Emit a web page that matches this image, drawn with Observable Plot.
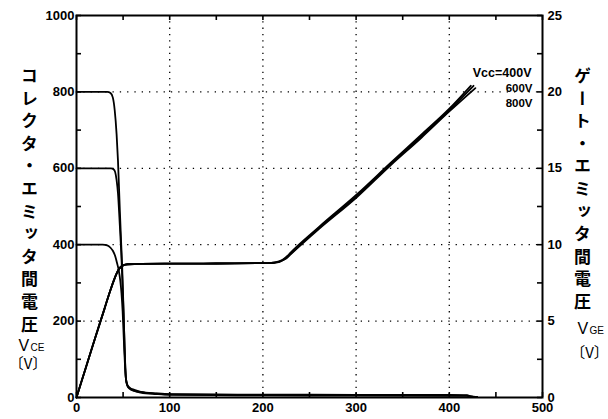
<!DOCTYPE html>
<html><head><meta charset="utf-8">
<script src="https://cdn.jsdelivr.net/npm/d3@7"></script>
<script src="https://cdn.jsdelivr.net/npm/@observablehq/plot@0.6"></script>
<style>html,body{margin:0;padding:0;background:#fff}</style>
</head><body><div id="chart"></div>
<script>
// time (ns) , collector-emitter voltage (V)
const vce400 = [[0,400],[28,400],[33,398],[36.5,392],[39,384],[41.8,368],[43.5,352],[45.4,332],[47,305],[48.3,272],[49.5,225],[50.8,150],[52,85],[53,50],[54.5,31],[57,23],[62,17],[69,13],[86,9],[100,7],[150,6],[200,5.5],[300,5],[400,4.5],[419,4],[423,2.5],[430,1]];
const vce600 = [[0,600],[37,600],[40,597],[41.5,590],[43,570],[44.5,535],[46.5,450],[48,380],[49,320],[50.5,222],[52,105],[53,50],[54.5,32],[57,24],[62,18],[69,14],[86,10],[100,8],[150,7],[200,6.5],[300,6],[400,5.5],[419,5],[423,3],[430,1]];
const vce800 = [[0,800],[33,800],[36.5,797],[39,785],[41,752],[43,690],[44.5,620],[46.5,490],[48,400],[49,342],[50.5,225],[52,100],[53,50],[54.5,34],[57,26],[62,20],[69,15],[86,11],[100,9],[150,8],[200,7.5],[300,7],[400,6.5],[419,6],[423,3],[430,1]];
// time (ns) , gate-emitter voltage (V)
const vge400 = [[0,0],[10,1.95],[20,3.9],[30,5.8],[36,6.95],[40,7.65],[43,8.1],[46,8.45],[50,8.65],[55,8.72],[70,8.75],[150,8.77],[205,8.8],[212,8.83],[218,8.92],[222,9.05],[226,9.25],[230,9.5],[260,11.15],[301,13.3],[337,15.35],[370,17.2],[400,18.9],[423,20.4]];
const vge600 = [[0,0],[10,1.95],[20,3.9],[30,5.8],[36,6.95],[40,7.65],[43,8.1],[46,8.45],[50,8.65],[55,8.72],[70,8.75],[150,8.77],[205,8.8],[212,8.82],[218,8.9],[222,9.02],[226,9.2],[230,9.42],[260,11.1],[301,13.2],[337,15.28],[370,17.1],[400,18.8],[426,20.4]];
const vge800 = [[0,0],[10,1.95],[20,3.9],[30,5.8],[36,6.95],[40,7.65],[43,8.1],[46,8.45],[50,8.65],[55,8.72],[70,8.75],[150,8.77],[205,8.8],[212,8.82],[218,8.88],[222,9.0],[226,9.15],[230,9.38],[260,11.02],[301,13.12],[337,15.2],[370,17.0],[400,18.72],[428,20.25]];

const xTicks = [0,100,200,300,400,500];
const xMinorTicks = [50,150,250,350,450];
const vceTicks = [0,200,400,600,800,1000];
const vceMinorTicks = [100,300,500,700,900];
const vgeTicks = [0,5,10,15,20,25];
const vgeMinorTicks = [2.5,7.5,12.5,17.5,22.5];
const vccLabels = ["Vcc=400V","600V","800V"];
const leftTitle = "コレクタ・エミッタ間電圧";
const rightTitle = "ゲート・エミッタ間電圧";

const X_MAX = 500, VGE_MAX = 25, VCE_MAX = 1000;
const k = VCE_MAX / VGE_MAX;

const W = 608, H = 419, ML = 76, MR = 66, MT = 15, MB = 22, TICK = 5;
const FW = W - ML - MR, FH = H - MT - MB;
const tx = TICK / FW * X_MAX;   // tick length in x units
const ty = TICK / FH * VCE_MAX; // tick length in y units

const lineOpts = {x: d => d[0], y: d => d[1], curve: "monotone-x", stroke: "#000", strokeWidth: 1.8};
const gateOpts = {x: d => d[0], y: d => d[1] * k, curve: "monotone-x", stroke: "#000", strokeWidth: 1.8};
const jp = {fontFamily: "Noto Sans CJK JP", fontWeight: "bold"};
const allX = xTicks.concat(xMinorTicks);
const allVce = vceTicks.concat(vceMinorTicks);
const allVge = vgeTicks.concat(vgeMinorTicks).map(v => v * k);
const tk = {stroke: "black", strokeWidth: 1.6, strokeOpacity: 1};

const chart = Plot.plot({
  width: W, height: H,
  marginLeft: ML, marginRight: MR, marginTop: MT, marginBottom: MB,
  style: {fontFamily: "Liberation Sans, Arial, sans-serif", fontSize: "13px", fontWeight: "bold", background: "#fff", color: "#000"},
  x: {domain: [0, X_MAX], label: null},
  y: {domain: [0, VCE_MAX], label: null},
  marks: [
    Plot.ruleX(xTicks.slice(1, -1), {stroke: "#000", strokeWidth: 1.3, strokeDasharray: "1.3,5"}),
    Plot.ruleY(vceTicks.slice(1, -1), {stroke: "#000", strokeWidth: 1.3, strokeDasharray: "1.3,6"}),
    Plot.line(vce400, lineOpts),
    Plot.line(vce600, lineOpts),
    Plot.line(vce800, lineOpts),
    Plot.line(vge400, gateOpts),
    Plot.line(vge600, gateOpts),
    Plot.line(vge800, gateOpts),
    Plot.frame({stroke: "#000", strokeWidth: 2}),
    // inward ticks
    Plot.ruleX(allX, {x: d => d, y1: () => 0, y2: () => ty, ...tk}),
    Plot.ruleX(allX, {x: d => d, y1: () => VCE_MAX - ty, y2: () => VCE_MAX, ...tk}),
    Plot.ruleY(allVce, {y: d => d, x1: () => 0, x2: () => tx, ...tk}),
    Plot.ruleY(allVge, {y: d => d, x1: () => X_MAX - tx, x2: () => X_MAX, ...tk}),
    // tick labels
    Plot.axisX({anchor: "bottom", ticks: xTicks, tickSize: 0, tickPadding: 5, tickFormat: d => String(d), label: null}),
    Plot.axisY({anchor: "left", ticks: vceTicks, tickSize: 0, tickPadding: 2, tickFormat: d => String(d), label: null}),
    Plot.axisY({anchor: "right", ticks: vgeTicks.map(v => v * k), tickFormat: v => String(v / k), tickSize: 0, tickPadding: 5, label: null}),
    Plot.text([vccLabels[0]], {frameAnchor: "top-right", dx: -11, dy: 53, textAnchor: "end", fontSize: 12.5, fontWeight: "bold"}),
    Plot.text([vccLabels.slice(1).join("\n")], {frameAnchor: "top-right", dx: -10, dy: 79, textAnchor: "end", lineAnchor: "middle", lineHeight: 1.3, fontSize: 11.5, fontWeight: "bold"}),
    Plot.text([leftTitle], {frameAnchor: "top-left", dx: -47, dy: 39.5, textAnchor: "start", fontSize: 17, ...jp}),
    Plot.text([rightTitle], {frameAnchor: "top-right", dx: 40, dy: 39.5, textAnchor: "start", fontSize: 17, ...jp}),
    Plot.text(["V"], {frameAnchor: "left", dx: -58, dy: 139, textAnchor: "start", fontSize: 16, fontWeight: "normal"}),
    Plot.text(["CE"], {frameAnchor: "left", dx: -46, dy: 141, textAnchor: "start", fontSize: 10, fontWeight: "normal"}),
    Plot.text(["〔V〕"], {frameAnchor: "left", dx: -48.5, dy: 158, textAnchor: "middle", fontSize: 15, fontFamily: "Noto Sans CJK JP", fontWeight: 400}),
    Plot.text(["V"], {frameAnchor: "right", dx: 35, dy: 122, textAnchor: "start", fontSize: 16, fontWeight: "normal"}),
    Plot.text(["GE"], {frameAnchor: "right", dx: 47, dy: 124, textAnchor: "start", fontSize: 10, fontWeight: "normal"}),
    Plot.text(["〔V〕"], {frameAnchor: "right", dx: 47, dy: 147, textAnchor: "middle", fontSize: 15, fontFamily: "Noto Sans CJK JP", fontWeight: 400})
  ]
});
// vertical writing for the two Japanese axis titles
d3.select(chart).selectAll("text").each(function() {
  const t = this.textContent;
  if (t === leftTitle || t === rightTitle) {
    this.setAttribute("writing-mode", "vertical-rl");
    this.setAttribute("dy", "0");
    this.style.letterSpacing = "5.6px";
  }
});
document.getElementById("chart").append(chart);
</script>
</body></html>
